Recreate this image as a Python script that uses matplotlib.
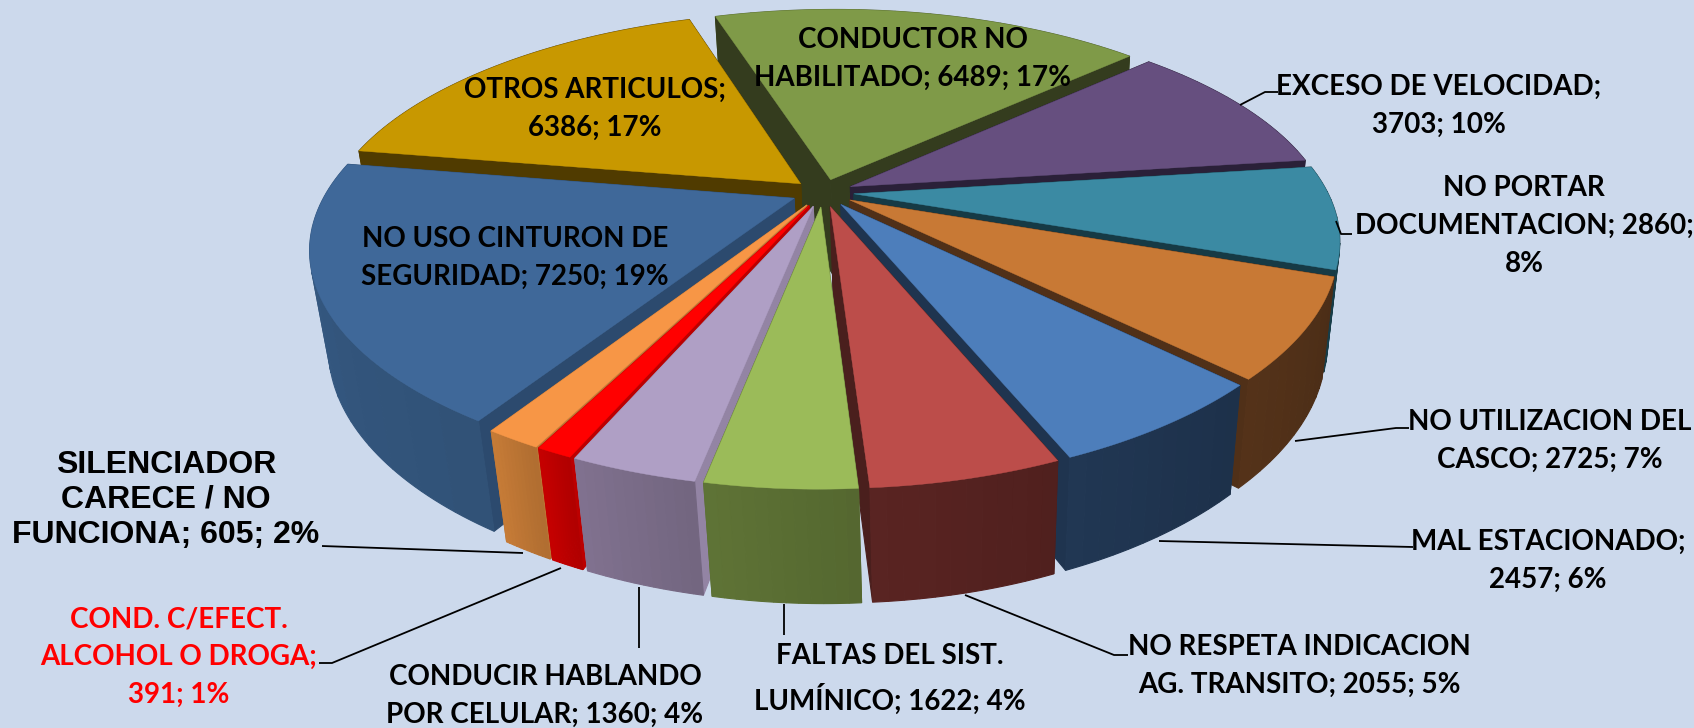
import matplotlib
matplotlib.use("Agg")
import matplotlib.pyplot as plt
import matplotlib.colors as mc
import numpy as np

# clockwise, starting from the top slice
valores = [6489, 3703, 2860, 2725, 2457, 2055, 1622, 1360, 391, 605, 7250, 6386]
etiquetas = ["CONDUCTOR NO\nHABILITADO; 6489; 17%",
             "EXCESO DE VELOCIDAD;\n3703; 10%",
             "NO PORTAR\nDOCUMENTACION; 2860;\n8%",
             "NO UTILIZACION DEL\nCASCO; 2725; 7%",
             "MAL ESTACIONADO;\n2457; 6%",
             "NO RESPETA INDICACION\nAG. TRANSITO; 2055; 5%",
             "FALTAS DEL SIST.\nLUMÍNICO; 1622; 4%",
             "CONDUCIR HABLANDO\nPOR CELULAR; 1360; 4%",
             "COND. C/EFECT.\nALCOHOL O DROGA;\n391; 1%",
             "SILENCIADOR\nCARECE / NO\nFUNCIONA; 605; 2%",
             "NO USO CINTURON DE\nSEGURIDAD; 7250; 19%",
             "OTROS ARTICULOS;\n6386; 17%"]
tapas = ["#7F9A48", "#664F7F", "#3B8AA3", "#C87935", "#4D7EBB", "#BC4D4A",
         "#9BBB59", "#AF9FC5", "#FF0000", "#F79646", "#3F6899", "#C89800"]
paredes = ["#4C5C2B", "#2A2038", "#163A45", "#503018", "#1F344F", "#552220",
           "#5A6E33", "#7A6C88", "#BC0000", "#BC7534", "#34577F", "#503B00"]
cortes = ["#343C1E", "#2A2038", "#163A45", "#503018", "#1F344F", "#4A1F1D",
          "#5A6E33", "#9384A4", "#BC0000", "#BC7534", "#2C4A6E", "#503B00"]
pos_texto = [(913, 59), (1439, 106), (1524, 226), (1550, 441), (1548, 561), (1299, 666),
             (890, 679), (545, 696), (179, 657), (166, 500), (515, 258), (595, 109)]
guias = {1: [(1278, 92), (1265, 92), (1240, 105)],
         2: [(1352, 234), (1341, 234), (1336, 221)],
         3: [(1409, 428), (1396, 428), (1295, 441)],
         4: [(1413, 547), (1159, 541)],
         5: [(1128, 655), (1114, 655), (965, 595)],
         6: [(784, 635), (784, 604)],
         7: [(639, 648), (639, 587)],
         8: [(319, 663), (332, 663), (561, 568)],
         9: [(322, 546), (523, 553)]}

fondo = "#CCD9EC"
inicio = -15.5
explode = 0.065
cx, cy = 823, 193
R, S, D = 476, 213, 100
k, kx, m = 0.22, 0.17, 0.03
sesgo = 0.035


def proy(X, Y, z):
    yy = cy - (S * Y - D * z) / (1 + k * Y + m * z)
    xx = R * X / (1 + kx * Y + m * z) + sesgo * (yy - cy)
    # the outline is not a true ellipse, sides sit lower and the left more so
    yy = yy + 9 * X ** 2 - 0.012 * xx
    return cx + xx, yy


def tono(color, f):
    return tuple(min(1, c * f) for c in mc.to_rgb(color))


fig = plt.figure(figsize=(16.94, 7.28), dpi=100, facecolor=fondo)
ax = fig.add_axes([0, 0, 1, 1])
ax.set_xlim(0, 1694)
ax.set_ylim(728, 0)
ax.axis("off")

bordes = inicio + np.concatenate([[0], np.cumsum(valores)]) / sum(valores) * 360
medios = np.radians((bordes[:-1] + bordes[1:]) / 2)

# back slices first
orden = np.argsort(-np.cos(medios))
for i in orden:
    a = np.radians(np.linspace(bordes[i], bordes[i + 1], 61))
    ox, oy = explode * np.sin(medios[i]), explode * np.cos(medios[i])
    X = ox + np.sin(a)
    Y = oy + np.cos(a)

    caras = []
    caras.append(((oy + Y[0]) / 2, [ox, X[0]], [oy, Y[0]], cortes[i]))
    caras.append(((oy + Y[-1]) / 2, [ox, X[-1]], [oy, Y[-1]], cortes[i]))
    # outer wall in bands, the reference has visible vertical stripes
    paso = 5
    for j in range(0, len(a) - 1, paso):
        t = j / (len(a) - 1)
        sx0 = proy(X[j], Y[j], 0)[0]
        sx1 = proy(X[j + paso], Y[j + paso], 0)[0]
        f = 1.06 - 0.12 * t if sx1 > sx0 else 0.94 + 0.12 * t
        caras.append(((Y[j] + Y[j + paso]) / 2, X[j:j + paso + 1], Y[j:j + paso + 1], tono(paredes[i], f)))
    caras.sort(key=lambda c: -c[0])
    for _, xs, ys, col in caras:
        x0, y0 = proy(np.array(xs), np.array(ys), 0)
        x1, y1 = proy(np.array(xs), np.array(ys), 1)
        ax.fill(np.r_[x0, x1[::-1]], np.r_[y0, y1[::-1]], facecolor=col, edgecolor=col, lw=0.8)

    tx, ty = proy(np.r_[ox, X], np.r_[oy, Y], 0)
    ax.fill(tx, ty, color=tapas[i], lw=0.3)

for linea in guias.values():
    ax.plot(*zip(*linea), color="black", lw=1.3, solid_capstyle="butt")

for i, txt in enumerate(etiquetas):
    col = "#FF0000" if txt.startswith("COND.") else "black"
    if txt.startswith("SILENCIADOR"):
        ax.text(*pos_texto[i], txt, ha="center", va="center", color=col,
                family="Liberation Sans", weight="bold", fontsize=23, linespacing=1.2)
    else:
        ax.text(*pos_texto[i], txt, ha="center", va="center", color=col,
                family="Lato", weight="bold", fontsize=20, linespacing=1.55)

fig.savefig("out.png", dpi=100, facecolor=fondo)
